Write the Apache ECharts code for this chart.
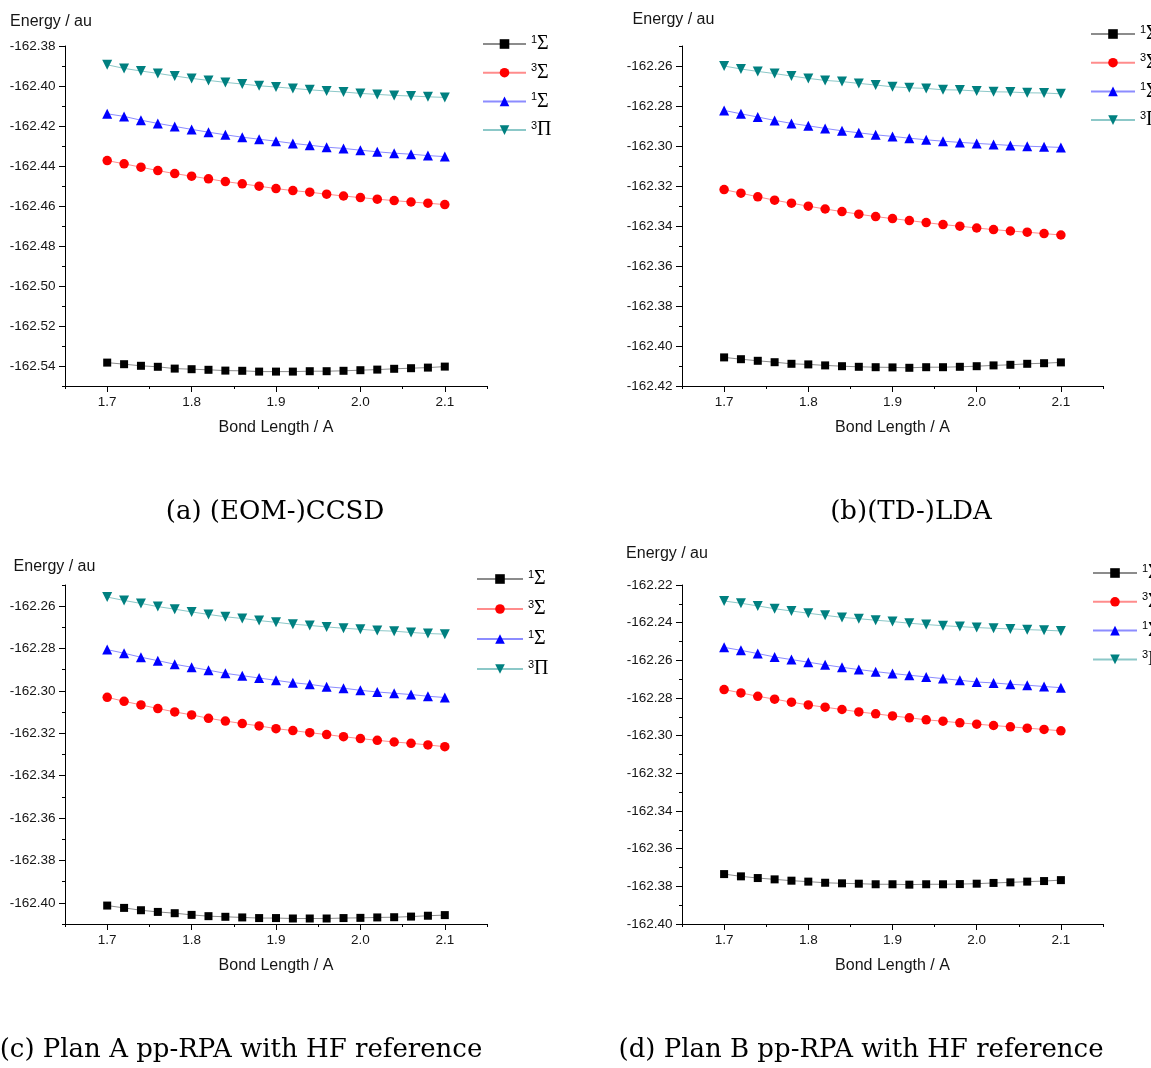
<!DOCTYPE html>
<html>
<head>
<meta charset="utf-8">
<title>Potential energy curves</title>
<script src="https://cdn.jsdelivr.net/npm/echarts@6/dist/echarts.min.js"></script>
<style>
  html, body { margin: 0; padding: 0; background: #ffffff; }
  #chart { width: 1151px; height: 1068px; }
</style>
</head>
<body>
<div id="chart"></div>
<script>
// Bond length grid (A)
const bondLength = [1.70, 1.72, 1.74, 1.76, 1.78, 1.80, 1.82, 1.84, 1.86, 1.88, 1.90,
                    1.92, 1.94, 1.96, 1.98, 2.00, 2.02, 2.04, 2.06, 2.08, 2.10];

// (a) (EOM-)CCSD energies (au)
const ccsdGround = [-162.5383, -162.5391, -162.5399, -162.5404, -162.5413, -162.5416, -162.5419, -162.5423, -162.5424, -162.5428, -162.5428,
                    -162.5428, -162.5426, -162.5426, -162.5424, -162.5421, -162.5418, -162.5414, -162.5411, -162.5408, -162.5403];
const ccsdTripletSigma = [-162.4373, -162.4389, -162.4406, -162.4423, -162.4438, -162.4451, -162.4464, -162.4478, -162.4489, -162.4501, -162.4513,
                          -162.4523, -162.4531, -162.4541, -162.4550, -162.4558, -162.4566, -162.4573, -162.4580, -162.4586, -162.4593];
const ccsdSingletSigma = [-162.4139, -162.4152, -162.4171, -162.4187, -162.4202, -162.4217, -162.4231, -162.4244, -162.4256, -162.4266, -162.4276,
                          -162.4287, -162.4296, -162.4306, -162.4312, -162.4321, -162.4329, -162.4336, -162.4341, -162.4348, -162.4353];
const ccsdTripletPi = [-162.3894, -162.3912, -162.3925, -162.3937, -162.3950, -162.3962, -162.3972, -162.3982, -162.3990, -162.3999, -162.4005,
                       -162.4012, -162.4019, -162.4025, -162.4030, -162.4037, -162.4042, -162.4047, -162.4050, -162.4054, -162.4057];

// (b) (TD-)LDA energies (au)
const ldaGround = [-162.4057, -162.4066, -162.4074, -162.4081, -162.4089, -162.4092, -162.4097, -162.4101, -162.4104, -162.4106, -162.4107,
                   -162.4109, -162.4106, -162.4106, -162.4104, -162.4101, -162.4097, -162.4094, -162.4089, -162.4086, -162.4082];
const ldaTripletSigma = [-162.3218, -162.3236, -162.3254, -162.3271, -162.3286, -162.3301, -162.3315, -162.3328, -162.3341, -162.3353, -162.3363,
                         -162.3373, -162.3383, -162.3393, -162.3401, -162.3410, -162.3418, -162.3425, -162.3431, -162.3438, -162.3445];
const ldaSingletSigma = [-162.2822, -162.2839, -162.2855, -162.2872, -162.2887, -162.2899, -162.2912, -162.2924, -162.2934, -162.2944, -162.2952,
                         -162.2961, -162.2969, -162.2976, -162.2982, -162.2987, -162.2992, -162.2997, -162.3001, -162.3004, -162.3007];
const ldaTripletPi = [-162.2600, -162.2615, -162.2627, -162.2638, -162.2650, -162.2662, -162.2672, -162.2678, -162.2687, -162.2695, -162.2704,
                      -162.2709, -162.2712, -162.2719, -162.2720, -162.2725, -162.2729, -162.2730, -162.2734, -162.2735, -162.2739];

// (c) Plan A pp-RPA energies (au)
const planAGround = [-162.4013, -162.4024, -162.4035, -162.4043, -162.4049, -162.4057, -162.4063, -162.4066, -162.4069, -162.4072, -162.4072,
                     -162.4074, -162.4074, -162.4074, -162.4072, -162.4071, -162.4069, -162.4068, -162.4065, -162.4061, -162.4058];
const planATripletSigma = [-162.3030, -162.3049, -162.3066, -162.3083, -162.3099, -162.3113, -162.3129, -162.3142, -162.3154, -162.3165, -162.3178,
                           -162.3187, -162.3197, -162.3206, -162.3216, -162.3225, -162.3233, -162.3241, -162.3247, -162.3255, -162.3263];
const planASingletSigma = [-162.2805, -162.2822, -162.2841, -162.2857, -162.2874, -162.2888, -162.2902, -162.2917, -162.2928, -162.2939, -162.2950,
                           -162.2961, -162.2969, -162.2980, -162.2987, -162.2997, -162.3005, -162.3011, -162.3017, -162.3025, -162.3031];
const planATripletPi = [-162.2557, -162.2573, -162.2587, -162.2602, -162.2614, -162.2627, -162.2639, -162.2650, -162.2658, -162.2668, -162.2676,
                        -162.2685, -162.2691, -162.2698, -162.2704, -162.2709, -162.2715, -162.2718, -162.2724, -162.2729, -162.2732];

// (d) Plan B pp-RPA energies (au)
const planBGround = [-162.3735, -162.3747, -162.3756, -162.3763, -162.3770, -162.3775, -162.3781, -162.3784, -162.3786, -162.3789, -162.3789,
                     -162.3791, -162.3789, -162.3789, -162.3788, -162.3786, -162.3782, -162.3779, -162.3775, -162.3772, -162.3767];
const planBTripletSigma = [-162.2755, -162.2773, -162.2791, -162.2806, -162.2822, -162.2837, -162.2849, -162.2861, -162.2874, -162.2884, -162.2895,
                           -162.2905, -162.2916, -162.2923, -162.2932, -162.2939, -162.2946, -162.2953, -162.2960, -162.2967, -162.2974];
const planBSingletSigma = [-162.2531, -162.2547, -162.2564, -162.2582, -162.2596, -162.2610, -162.2624, -162.2637, -162.2649, -162.2660, -162.2670,
                           -162.2679, -162.2688, -162.2697, -162.2706, -162.2715, -162.2720, -162.2727, -162.2732, -162.2739, -162.2745];
const planBTripletPi = [-162.2285, -162.2297, -162.2311, -162.2326, -162.2338, -162.2350, -162.2361, -162.2372, -162.2379, -162.2387, -162.2394,
                        -162.2403, -162.2410, -162.2416, -162.2421, -162.2426, -162.2430, -162.2433, -162.2437, -162.2440, -162.2444];

// Labelled ticks
const xMajorTicks = [1.7, 1.8, 1.9, 2.0, 2.1];
const yTicksCCSD = [-162.38, -162.40, -162.42, -162.44, -162.46, -162.48, -162.50, -162.52, -162.54];
const yTicksLDA = [-162.26, -162.28, -162.30, -162.32, -162.34, -162.36, -162.38, -162.40, -162.42];
const yTicksPlanA = [-162.26, -162.28, -162.30, -162.32, -162.34, -162.36, -162.38, -162.40];
const yTicksPlanB = [-162.22, -162.24, -162.26, -162.28, -162.30, -162.32, -162.34, -162.36, -162.38, -162.40];

// State labels: spin multiplicity and term symbol
const stateMultiplicity = ['1', '3', '1', '3'];
const stateTerm = ['Σ', 'Σ', 'Σ', 'Π'];

const captions = ['(a) (EOM-)CCSD', '(b)(TD-)LDA', '(c) Plan A pp-RPA with HF reference', '(d) Plan B pp-RPA with HF reference'];

const SANS = 'Liberation Sans';
const SERIF = 'DejaVu Serif';

const stateStyles = [
  { symbol: 'rect', size: 8, rotate: 0, color: '#000000', line: '#8c8c8c' },
  { symbol: 'circle', size: 9.5, rotate: 0, color: '#ff0000', line: '#ff8c8c' },
  { symbol: 'triangle', size: 10, rotate: 0, color: '#0000ff', line: '#8c8cff' },
  { symbol: 'triangle', size: 10, rotate: 180, color: '#008080', line: '#8cc8c8' }
];

const panels = [
  { key: 'a', states: [ccsdGround, ccsdTripletSigma, ccsdSingletSigma, ccsdTripletPi], yTicks: yTicksCCSD,
    yMin: -162.55, yMax: -162.38, left: 65, top: 46, width: 422, height: 340,
    namePad: 28, nameGap: 16, legend: { left: 477, top: 29, gap: 8.7, w: 43 }, caption: { x: 275, y: 512 } },
  { key: 'b', states: [ldaGround, ldaTripletSigma, ldaSingletSigma, ldaTripletPi], yTicks: yTicksLDA,
    yMin: -162.42, yMax: -162.25, left: 682, top: 46, width: 421, height: 340,
    namePad: 17, nameGap: 18, legend: { left: 1085, top: 19, gap: 8.7, w: 44 }, caption: { x: 911, y: 512 } },
  { key: 'c', states: [planAGround, planATripletSigma, planASingletSigma, planATripletPi], yTicks: yTicksPlanA,
    yMin: -162.41, yMax: -162.25, left: 65, top: 585, width: 422, height: 339,
    namePad: 21, nameGap: 10, legend: { left: 471, top: 564, gap: 10, w: 46 }, caption: { x: 241, y: 1050 } },
  { key: 'd', states: [planBGround, planBTripletSigma, planBSingletSigma, planBTripletPi], yTicks: yTicksPlanB,
    yMin: -162.40, yMax: -162.22, left: 682, top: 585, width: 421, height: 339,
    namePad: 30, nameGap: 23, legend: { left: 1087, top: 558, gap: 8.8, w: 44 }, caption: { x: 861, y: 1050 } }
];

const grids = [], xAxes = [], yAxes = [], series = [], legends = [], graphics = [];
const legendLabels = {};
const tickColor = '#000000';
const labelColor = '#151515';

panels.forEach((p, i) => {
  grids.push({ left: p.left, top: p.top, width: p.width, height: p.height, containLabel: false });

  // minor-tick x axis with line and title
  xAxes.push({
    type: 'value', gridIndex: i, position: 'bottom', min: 1.65, max: 2.15, interval: 0.05,
    axisLine: { show: true, onZero: false, lineStyle: { color: tickColor, width: 1 } },
    axisTick: { show: true, length: 3, lineStyle: { color: tickColor, width: 1 } },
    axisLabel: { show: false }, splitLine: { show: false },
    name: 'Bond Length / A', nameLocation: 'middle', nameGap: 34,
    nameTextStyle: { fontFamily: SANS, fontSize: 16, color: labelColor }
  });
  // major ticks and labels
  xAxes.push({
    type: 'value', gridIndex: i, position: 'bottom', min: 1.65, max: 2.15,
    axisLine: { show: false },
    axisTick: { show: true, length: 6, customValues: xMajorTicks, lineStyle: { color: tickColor, width: 1 } },
    axisLabel: { show: true, customValues: xMajorTicks, formatter: v => v.toFixed(1), margin: 9,
                 fontFamily: SANS, fontSize: 13.5, color: labelColor },
    splitLine: { show: false }
  });

  yAxes.push({
    type: 'value', gridIndex: i, position: 'left', min: p.yMin, max: p.yMax, interval: 0.01,
    axisLine: { show: true, onZero: false, lineStyle: { color: tickColor, width: 1 } },
    axisTick: { show: true, length: 3, lineStyle: { color: tickColor, width: 1 } },
    axisLabel: { show: false }, splitLine: { show: false },
    name: 'Energy / au', nameLocation: 'end', nameGap: p.nameGap,
    nameTextStyle: { fontFamily: SANS, fontSize: 16, color: labelColor, padding: [0, p.namePad, 0, 0] }
  });
  yAxes.push({
    type: 'value', gridIndex: i, position: 'left', min: p.yMin, max: p.yMax,
    axisLine: { show: false },
    axisTick: { show: true, length: 6, customValues: p.yTicks, lineStyle: { color: tickColor, width: 1 } },
    axisLabel: { show: true, customValues: p.yTicks, formatter: v => v.toFixed(2), margin: 9.5,
                 fontFamily: SANS, fontSize: 13.5, color: labelColor },
    splitLine: { show: false }
  });

  const names = [];
  p.states.forEach((values, k) => {
    const st = stateStyles[k];
    const name = p.key + k;
    names.push(name);
    legendLabels[name] = '{sup|' + stateMultiplicity[k] + '}{sym|' + stateTerm[k] + '}';
    series.push({
      type: 'line', name: name, xAxisIndex: 2 * i, yAxisIndex: 2 * i,
      data: bondLength.map((x, j) => [x, values[j]]),
      symbol: st.symbol, symbolSize: st.size, symbolRotate: st.rotate, showAllSymbol: true,
      itemStyle: { color: st.color },
      lineStyle: { color: st.line, width: 1 },
      emphasis: { disabled: true },
      animation: false
    });
  });

  legends.push({
    orient: 'vertical', left: p.legend.left, top: p.legend.top,
    itemWidth: p.legend.w, itemHeight: 12, itemGap: p.legend.gap,
    selectedMode: false, data: names,
    formatter: name => legendLabels[name],
    textStyle: {
      rich: {
        sup: { fontFamily: SANS, fontSize: 11, color: '#000', verticalAlign: 'top', lineHeight: 20 },
        sym: { fontFamily: 'Liberation Serif', fontSize: 20, color: '#000', verticalAlign: 'bottom', lineHeight: 20 }
      }
    }
  });

  graphics.push({
    type: 'text',
    x: p.caption.x, y: p.caption.y,
    style: { text: captions[i], font: '26px "' + SERIF + '"', fill: '#000', textAlign: 'center', textVerticalAlign: 'middle' }
  });
});

const chart = echarts.init(document.getElementById('chart'), null, { renderer: 'canvas' });
chart.setOption({
  backgroundColor: '#ffffff',
  animation: false,
  grid: grids,
  xAxis: xAxes,
  yAxis: yAxes,
  legend: legends,
  series: series,
  graphic: graphics
});
</script>
</body>
</html>
